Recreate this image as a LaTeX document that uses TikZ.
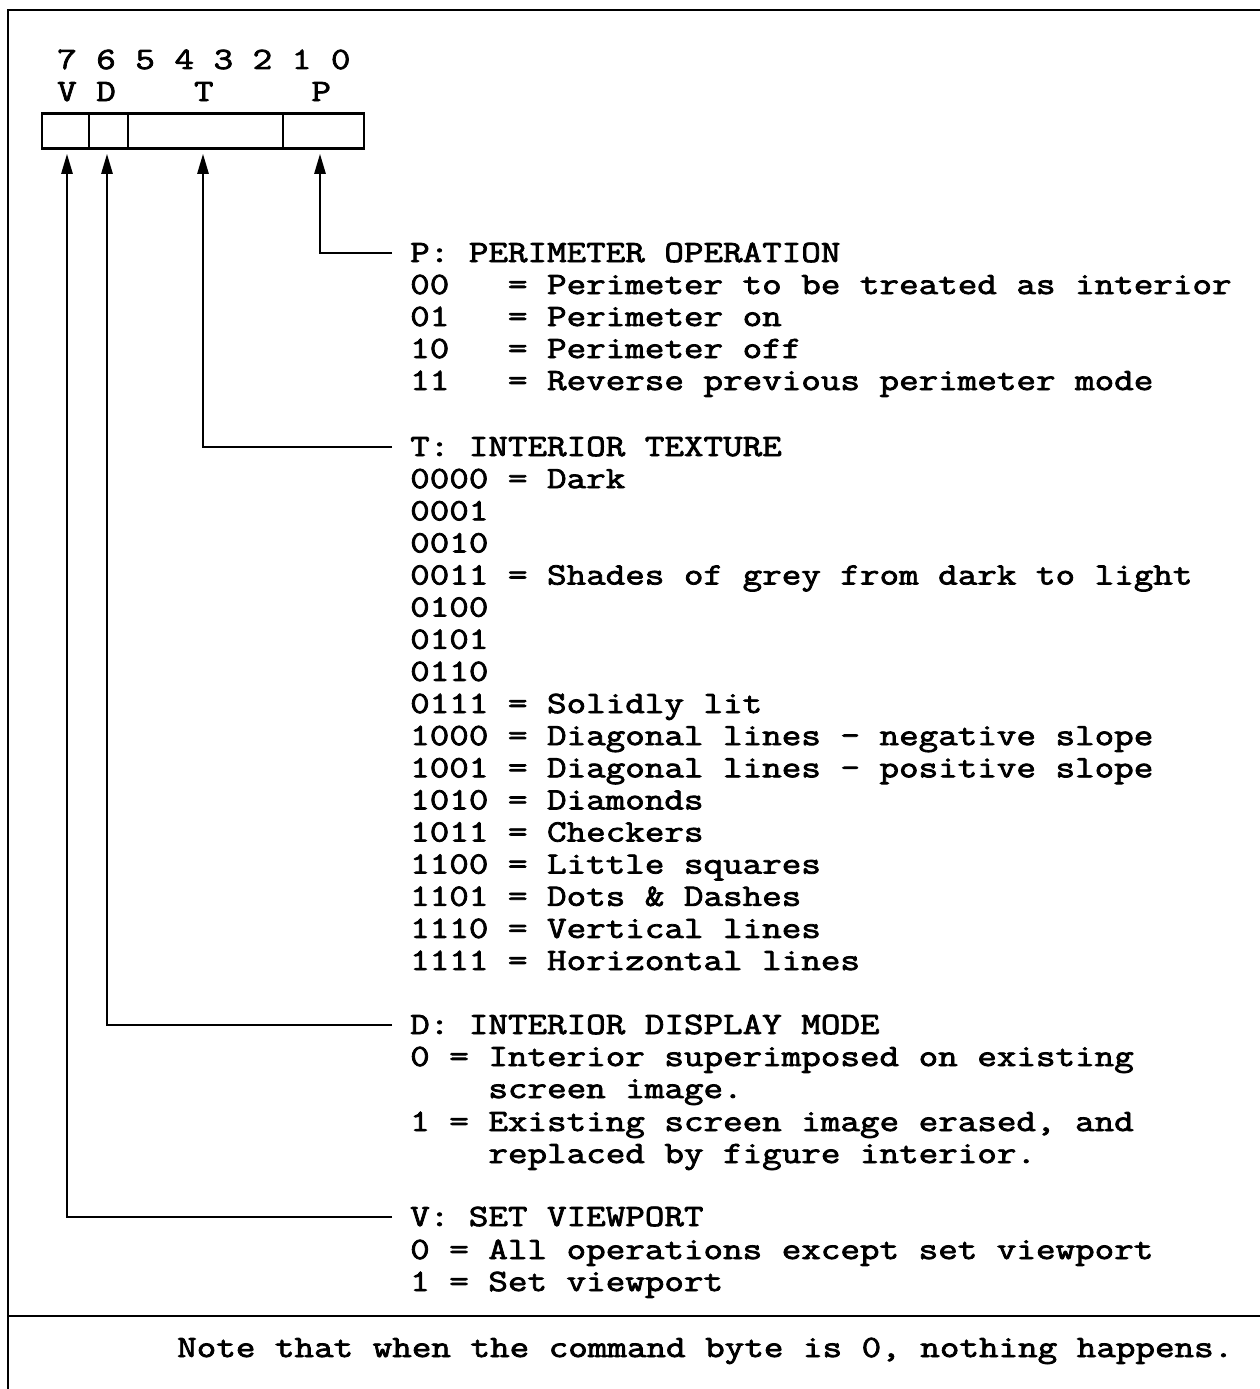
\documentclass[tikz,border=0pt]{standalone}
\usepackage{fontspec}
\newfontfamily\mono[FakeStretch=1.225,FakeBold=2.5]{Latin Modern Mono}
\usetikzlibrary{arrows.meta}
\begin{document}
\begin{tikzpicture}[x=1pt,y=-1pt,
  txt/.style={anchor=base west, inner sep=0pt, font=\mono\fontsize{31}{32}\selectfont},
  cell/.style={draw, line width=2.5pt, inner sep=0pt, minimum height=35pt},
  frame/.style={line width=2.5pt},
  conn/.style={line width=2.5pt, -{Triangle[length=20pt,width=11pt]}, shorten >=4pt}]
\useasboundingbox (0,0) rectangle (1260,1389);
\fill[white] (0,0) rectangle (1260,1389);
% frame
\draw[frame] (8,1389) -- (8,10) -- (1260,10);
\draw[frame] (8,1316) -- (1260,1316);
% bit header
\node[txt] (bits) at (57,69) {7~6~5~4~3~2~1~0};
\node[txt] (flds) at (57,101) {V~D~~~~T~~~~~P};
% register cells
\node[cell, minimum width=47pt] (cV) at (65.5,131) {};
\node[cell, minimum width=39pt] (cD) at (108.5,131) {};
\node[cell, minimum width=155pt] (cT) at (205.5,131) {};
\node[cell, minimum width=81pt] (cP) at (323.5,131) {};
% P section
\node[txt] (p0) at (410,262) {P:~PERIMETER~OPERATION};
\node[txt] (p1) at (410,294) {00~~~=~Perimeter~to~be~treated~as~interior};
\node[txt] (p2) at (410,326) {01~~~=~Perimeter~on};
\node[txt] (p3) at (410,358) {10~~~=~Perimeter~off};
\node[txt] (p4) at (410,390) {11~~~=~Reverse~previous~perimeter~mode};
% T section
\node[txt] (t0) at (410,456) {T:~INTERIOR~TEXTURE};
\node[txt] (t1) at (410,488.1) {0000~=~Dark};
\node[txt] (t2) at (410,520.3) {0001};
\node[txt] (t3) at (410,552.4) {0010};
\node[txt] (t4) at (410,584.5) {0011~=~Shades~of~grey~from~dark~to~light};
\node[txt] (t5) at (410,616.6) {0100};
\node[txt] (t6) at (410,648.8) {0101};
\node[txt] (t7) at (410,680.9) {0110};
\node[txt] (t8) at (410,713) {0111~=~Solidly~lit};
\node[txt] (t9) at (410,745.1) {1000~=~Diagonal~lines~-~negative~slope};
\node[txt] (t10) at (410,777.3) {1001~=~Diagonal~lines~-~positive~slope};
\node[txt] (t11) at (410,809.4) {1010~=~Diamonds};
\node[txt] (t12) at (410,841.5) {1011~=~Checkers};
\node[txt] (t13) at (410,873.6) {1100~=~Little~squares};
\node[txt] (t14) at (410,905.8) {1101~=~Dots~\&~Dashes};
\node[txt] (t15) at (410,937.9) {1110~=~Vertical~lines};
\node[txt] (t16) at (410,970) {1111~=~Horizontal~lines};
% D section
\node[txt] (d0) at (410,1034) {D:~INTERIOR~DISPLAY~MODE};
\node[txt] (d1) at (410,1066) {0~=~Interior~superimposed~on~existing};
\node[txt] (d2) at (410,1098) {~~~~screen~image.};
\node[txt] (d3) at (410,1131) {1~=~Existing~screen~image~erased,~and};
\node[txt] (d4) at (410,1163) {~~~~replaced~by~figure~interior.};
% V section
\node[txt] (v0) at (410,1226) {V:~SET~VIEWPORT};
\node[txt] (v1) at (410,1259) {0~=~All~operations~except~set~viewport};
\node[txt] (v2) at (410,1291) {1~=~Set~viewport};
% note
\node[txt] (note) at (177,1357) {Note~that~when~the~command~byte~is~0,~nothing~happens.};
% connector ends
\coordinate (eP) at (392,253);
\coordinate (eT) at (392,447);
\coordinate (eD) at (392,1025);
\coordinate (eV) at (392,1217);
\draw[conn] (eP) -| ([xshift=-3.5pt]cP.south);
\draw[conn] (eT) -| ([xshift=-2.5pt]cT.south);
\draw[conn] (eD) -| ([xshift=-1.5pt]cD.south);
\draw[conn] (eV) -| ([xshift=1.5pt]cV.south);
\end{tikzpicture}
\end{document}
